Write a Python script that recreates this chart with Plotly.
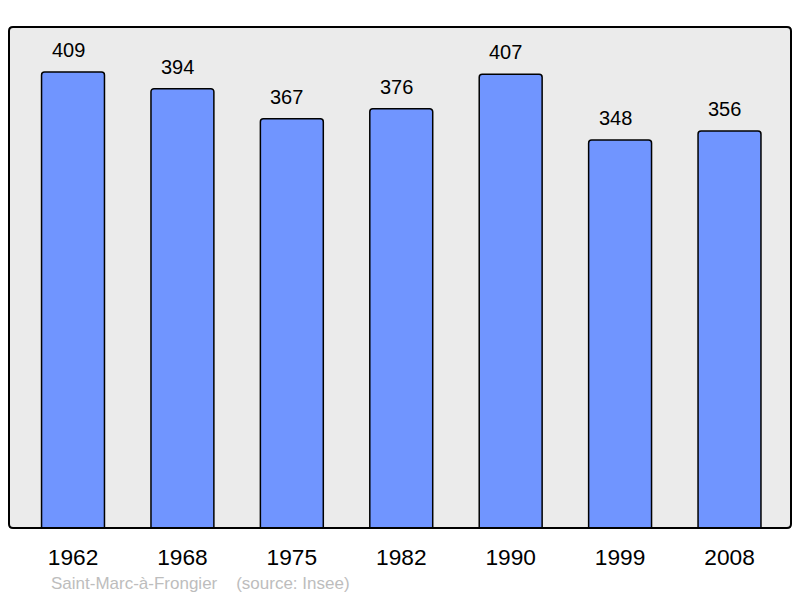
import plotly.graph_objects as go

years = ["1962", "1968", "1975", "1982", "1990", "1999", "2008"]
population = [409, 394, 367, 376, 407, 348, 356]
footer_text = "Saint-Marc-à-Frongier &nbsp;&nbsp;&nbsp;(source: Insee)"

FONT = "Liberation Sans, Arial, sans-serif"
W, H = 800, 598
L, R, T, B = 9, 9, 27, 70
PW, PH = W - L - R, H - T - B

fig = go.Figure()
fig.add_trace(go.Bar(
    x=list(range(len(years))), y=population,
    marker=dict(color="#7095ff", line=dict(color="#000000", width=1.5), cornerradius=3),
    hoverinfo="skip",
))

for i, v in enumerate(population):
    fig.add_annotation(x=i, y=v, xref="x", yref="y", text=str(v), showarrow=False,
                       yanchor="bottom", yshift=9, xshift=-5,
                       font=dict(family=FONT, size=20, color="#000000"))

fig.add_annotation(xref="paper", yref="paper", x=(49 - L) / PW, y=(T + PH - 583) / PH,
                   xanchor="left", yanchor="middle", showarrow=False,
                   text=footer_text, font=dict(family=FONT, size=17, color="#bdbdbd"))

rx, ry = 4 / PW, 4 / PH
path = (f"M {rx},0 L {1-rx},0 Q 1,0 1,{ry} L 1,{1-ry} Q 1,1 {1-rx},1 "
        f"L {rx},1 Q 0,1 0,{1-ry} L 0,{ry} Q 0,0 {rx},0 Z")
fig.add_shape(type="path", xref="paper", yref="paper", path=path,
              line=dict(color="#000000", width=2), layer="above")

fig.update_layout(
    width=W, height=H,
    margin=dict(l=L, r=R, t=T, b=B),
    paper_bgcolor="#ffffff", plot_bgcolor="#ebebeb",
    bargap=0.425, showlegend=False,
    font=dict(family=FONT),
    xaxis=dict(range=[-0.585, 6.562], showgrid=False, zeroline=False,
               showline=False, ticks="outside", ticklen=9, tickcolor="rgba(0,0,0,0)",
               tickmode="array", tickvals=list(range(len(years))), ticktext=years,
               tickfont=dict(family=FONT, size=22.7, color="#000000"), fixedrange=True),
    yaxis=dict(range=[0, 449.3], visible=False, showgrid=False, fixedrange=True),
)

fig.write_html("out.html", config={"displayModeBar": False, "staticPlot": True},
               post_script="document.body.style.margin='0';document.body.style.padding='0';")
